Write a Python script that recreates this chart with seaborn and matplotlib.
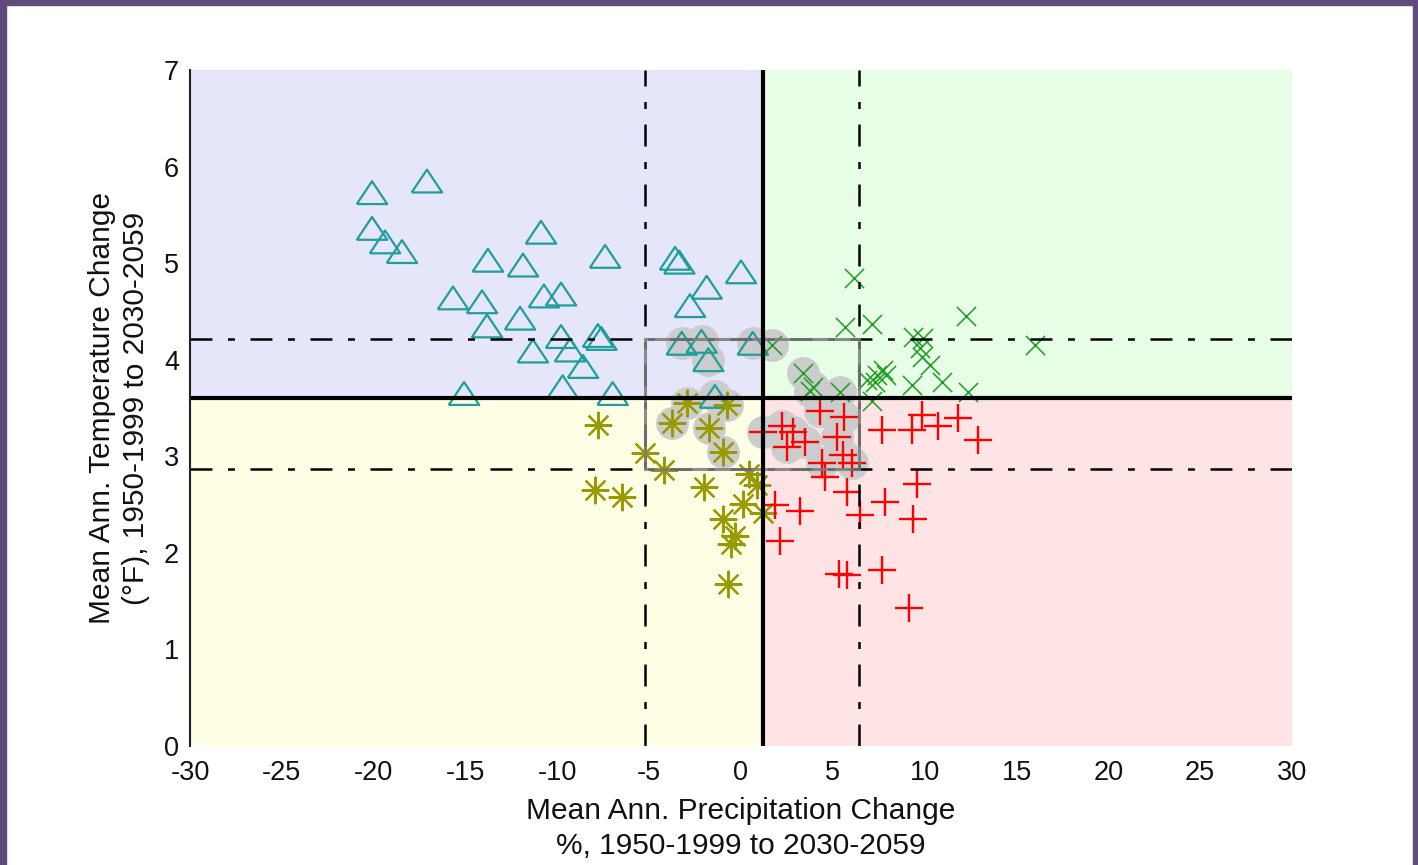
import matplotlib
matplotlib.use("Agg")
import matplotlib.pyplot as plt
from matplotlib.patches import Rectangle
import seaborn as sns
import numpy as np
import pandas as pd

# ---------------- data ----------------
dry_warm_x = [-20.09, -17.1, -20.09, -19.38, -18.46, -10.89, -13.78, -11.87, -7.4, -15.68,
              -14.1, -10.73, -9.8, -13.83, -12.03, -11.33, -9.8, -9.31, -8.6, -7.79,
              -7.6, -9.71, -15.08, -6.99, -3.59, -3.36, 0.0, -1.87, -2.78, -3.23,
              -2.15, -1.78, 0.64, -1.42]
dry_warm_y = [5.73, 5.85, 5.36, 5.22, 5.12, 5.32, 5.03, 4.98, 5.07, 4.64,
              4.60, 4.66, 4.68, 4.35, 4.43, 4.09, 4.24, 4.10, 3.93, 4.25,
              4.22, 3.72, 3.65, 3.65, 5.05, 5.01, 4.91, 4.75, 4.56, 4.17,
              4.19, 4.00, 4.17, 3.62]

dry_cool_x = [-7.80, -5.23, -4.19, -7.95, -6.46, -2.96, -3.76, -1.74, -0.78, -0.96,
              -2.02, 0.41, 0.87, 0.12, 1.2, -0.96, -0.33, -0.55, -0.69]
dry_cool_y = [3.32, 3.03, 2.86, 2.65, 2.58, 3.55, 3.34, 3.29, 3.53, 3.04,
              2.68, 2.82, 2.70, 2.51, 2.41, 2.35, 2.17, 2.09, 1.68]

wet_cool_x = [4.30, 5.62, 2.21, 1.18, 2.85, 2.49, 3.48, 5.21, 5.57, 4.39,
              6.03, 4.57, 5.75, 7.66, 9.29, 9.84, 10.74, 11.83, 12.92, 9.57,
              7.84, 6.48, 9.38, 1.85, 3.21, 2.12, 5.35, 5.79, 7.66, 9.16]
wet_cool_y = [3.47, 3.41, 3.31, 3.25, 3.25, 3.10, 3.15, 3.20, 3.01, 2.93,
              2.93, 2.79, 2.63, 3.27, 3.27, 3.43, 3.31, 3.40, 3.17, 2.71,
              2.53, 2.39, 2.35, 2.50, 2.43, 2.12, 1.78, 1.77, 1.82, 1.43]

wet_warm_x = [6.17, 5.66, 7.11, 12.25, 1.67, 9.38, 9.93, 9.75, 9.84, 10.29,
              10.93, 9.29, 12.37, 16.01, 3.39, 3.94, 5.39, 7.11, 6.84, 7.75,
              7.92, 7.38, 7.29, 3.76]
wet_warm_y = [4.85, 4.34, 4.37, 4.45, 4.15, 4.24, 4.23, 4.12, 4.03, 3.95,
              3.77, 3.74, 3.67, 4.15, 3.86, 3.72, 3.67, 3.57, 3.79, 3.89,
              3.84, 3.84, 3.77, 3.68]

split_x, split_y = 1.2, 3.6          # ensemble median (thick lines)
box_x = [-5.2, 6.42]                 # 25th / 75th percentiles precip
box_y = [2.87, 4.215]                # 25th / 75th percentiles temp

x_ticks = [-30, -25, -20, -15, -10, -5, 0, 5, 10, 15, 20, 25, 30]
y_ticks = [0, 1, 2, 3, 4, 5, 6, 7]

xlabel = "Mean Ann. Precipitation Change\n%, 1950-1999 to 2030-2059"
ylabel = "Mean Ann. Temperature Change\n(°F), 1950-1999 to 2030-2059"

# ---------------- style ----------------
sns.set_style("white")
plt.rcParams["font.family"] = ["Liberation Sans", "DejaVu Sans"]

W, H = 1418, 865
fig = plt.figure(figsize=(W / 100, H / 100), dpi=100)
fig.patch.set_facecolor("white")
purple = "#614a7c"
fig.patches.append(Rectangle((0, 0), 6 / W, 1, transform=fig.transFigure, color=purple, zorder=10))
fig.patches.append(Rectangle((0, 1 - 5 / H), 1, 5 / H, transform=fig.transFigure, color=purple, zorder=10))
fig.patches.append(Rectangle((1 - 5 / W, 0), 5 / W, 1, transform=fig.transFigure, color=purple, zorder=10))

ax = fig.add_axes([190 / W, 1 - 746 / H, 1102 / W, 676 / H])
ax.set_xlim(x_ticks[0], x_ticks[-1])
ax.set_ylim(y_ticks[0], y_ticks[-1])

# quadrant backgrounds
x0, x1 = x_ticks[0], x_ticks[-1]
y0, y1 = y_ticks[0], y_ticks[-1]
quads = [
    (x0, split_y, split_x - x0, y1 - split_y, "#e6e6fa"),
    (split_x, split_y, x1 - split_x, y1 - split_y, "#e6ffe6"),
    (x0, y0, split_x - x0, split_y - y0, "#ffffe6"),
    (split_x, y0, x1 - split_x, split_y - y0, "#ffe4e6"),
]
for qx, qy, qw, qh, qc in quads:
    ax.add_patch(Rectangle((qx, qy), qw, qh, facecolor=qc, edgecolor="none", zorder=0))

# halos behind points inside the interquartile box
all_x = np.array(dry_warm_x + dry_cool_x + wet_cool_x + wet_warm_x)
all_y = np.array(dry_warm_y + dry_cool_y + wet_cool_y + wet_warm_y)
inside = (all_x > box_x[0]) & (all_x < box_x[1]) & (all_y > box_y[0]) & (all_y < box_y[1])
halo = pd.DataFrame({"x": all_x[inside], "y": all_y[inside]})
sns.scatterplot(data=halo, x="x", y="y", ax=ax, marker="o", s=560, color="#cccccc",
                linewidth=0, zorder=1, legend=False)

tri = [(-1, -0.75), (1, -0.75), (0, 0.75), (-1, -0.75)]
teal = "#1f9e9e"
sns.scatterplot(x=dry_warm_x, y=dry_warm_y, ax=ax, marker=tri, s=480, color=teal,
                facecolor="none", edgecolor=teal, linewidth=1.6, zorder=2, legend=False)
sns.scatterplot(x=dry_cool_x, y=dry_cool_y, ax=ax, marker=(8, 2, 0), s=340, color="#999900",
                linewidth=1.6, zorder=2, legend=False)
sns.scatterplot(x=wet_cool_x, y=wet_cool_y, ax=ax, marker="+", s=380, color="#ff0000",
                linewidth=1.7, zorder=2, legend=False)
sns.scatterplot(x=wet_warm_x, y=wet_warm_y, ax=ax, marker="x", s=190, color="#1e9e1e",
                linewidth=1.1, zorder=2, legend=False)

# percentile dash-dot lines
lw_dd = 1.8
dd = (0, (15.8 / lw_dd, 11.2 / lw_dd, 5.0 / lw_dd, 11.2 / lw_dd))
for bx in box_x:
    ax.axvline(bx, color="black", linewidth=lw_dd, linestyle=dd, zorder=3)
for by in box_y:
    ax.axhline(by, color="black", linewidth=lw_dd, linestyle=dd, zorder=3)
ax.add_patch(Rectangle((box_x[0], box_y[0]), box_x[1] - box_x[0], box_y[1] - box_y[0],
                       fill=False, edgecolor="#7a7a7a", linewidth=2.2, alpha=0.85, zorder=3.5))

# median lines
ax.axvline(split_x, color="black", linewidth=3, zorder=4)
ax.axhline(split_y, color="black", linewidth=3, zorder=4)

# axes styling
for s in ["top", "right", "bottom"]:
    ax.spines[s].set_visible(False)
ax.spines["left"].set_color("#222222")
ax.spines["left"].set_linewidth(1.5)
ax.spines["left"].set_zorder(5)
ax.set_xticks(x_ticks)
ax.set_yticks(y_ticks)
ax.set_xticklabels([str(t) for t in x_ticks])
ax.set_yticklabels([str(t) for t in y_ticks])
ax.tick_params(axis="both", length=0, labelsize=19.5, colors="#111111")
ax.tick_params(axis="x", pad=10)
ax.tick_params(axis="y", pad=8)
ax.set_xlabel(xlabel, fontsize=21.5, labelpad=8, linespacing=1.33, color="#111111")
ax.set_ylabel(ylabel, fontsize=21.5, labelpad=10, linespacing=1.25, color="#111111")
ax.grid(False)

fig.savefig("out.png", dpi=100, facecolor="white")
